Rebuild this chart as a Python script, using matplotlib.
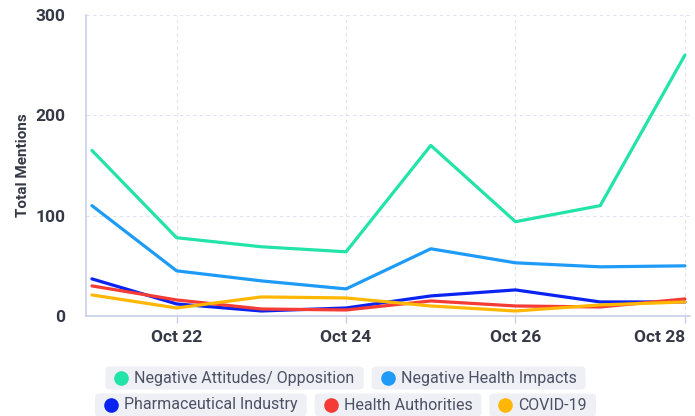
import matplotlib.pyplot as plt
from matplotlib.patches import FancyBboxPatch

plt.rcParams['font.family'] = ['Roboto', 'DejaVu Sans']

# data
days = [21, 22, 23, 24, 25, 26, 27, 28]
tick_days = [22, 24, 26, 28]
tick_labels = ['Oct 22', 'Oct 24', 'Oct 26', 'Oct 28']

neg_attitudes = [165, 78, 69, 64, 170, 94, 110, 260]
neg_health = [110, 45, 35, 27, 67, 53, 49, 50]
pharma = [37, 12, 5, 8, 20, 26, 14, 14]
health_auth = [30, 16, 7, 6, 15, 10, 9, 17]
covid = [21, 8, 19, 18, 10, 5, 11, 14]

names = ['Negative Attitudes/ Opposition', 'Negative Health Impacts',
         'Pharmaceutical Industry', 'Health Authorities', 'COVID-19']
series = [neg_attitudes, neg_health, pharma, health_auth, covid]
colors = ['#22e3a8', '#1e9bf7', '#0a23f0', '#f43b35', '#ffb703']

W, H = 695, 416
fig = plt.figure(figsize=(W / 100, H / 100), dpi=100)
ax = fig.add_axes([86 / W, 1 - 316 / H, (690 - 86) / W, (316 - 15) / H])

for vals, c in zip(series, colors):
    ax.plot(days, vals, color=c, lw=2.3, solid_capstyle='round', zorder=3)

ax.set_xlim(20.93, 28.06)
ax.set_ylim(0, 300)
ax.set_xticks(tick_days)
ax.set_xticklabels(tick_labels)
ax.set_yticks([0, 100, 200, 300])
ax.grid(True, color='#dfe3f0', ls=(0, (3, 3)), lw=0.8)
ax.set_axisbelow(True)
for s in ['top', 'right']:
    ax.spines[s].set_visible(False)
for s in ['left', 'bottom']:
    ax.spines[s].set_color('#c9d0e6')
    ax.spines[s].set_linewidth(1.2)
ax.tick_params(axis='x', length=5, color='#c9d0e6', width=1, labelsize=12.5,
               labelcolor='#353946', pad=5)
ax.tick_params(axis='y', length=0, labelsize=12.5, labelcolor='#353946', pad=15)
for lab in ax.get_xticklabels() + ax.get_yticklabels():
    lab.set_fontweight('semibold')
last = ax.get_xticklabels()[-1]
last.set_horizontalalignment('right')
last.set_x(28.06)
ax.set_ylabel('Total Mentions', fontsize=11, color='#353946', fontweight='semibold', labelpad=4)

# legend as rounded chips, two centred rows
rows = [[0, 1], [2, 3, 4]]
row_y = [378, 405]
gap = 8
fig.canvas.draw()
r = fig.canvas.get_renderer()
for row, yc in zip(rows, row_y):
    texts = []
    widths = []
    for i in row:
        t = fig.text(0, 1 - yc / H, names[i], fontsize=11.5, color='#4c5164',
                     va='center', ha='left')
        w = t.get_window_extent(r).width
        texts.append(t)
        widths.append(w + 38)
    total = sum(widths) + gap * (len(row) - 1)
    x0 = (W - total) / 2 - 2
    for t, w, i in zip(texts, widths, row):
        box = FancyBboxPatch((x0 / W, 1 - (yc + 11.5) / H), w / W, 23 / H,
                             boxstyle='round,pad=0,rounding_size=0.008',
                             transform=fig.transFigure, fc='#eef0f5', ec='none')
        fig.add_artist(box)
        fig.add_artist(plt.Line2D([(x0 + 16) / W], [1 - yc / H], marker='o', ms=9.5,
                                  color=colors[i], transform=fig.transFigure))
        t.set_x((x0 + 29) / W)
        t.set_zorder(5)
        x0 += w + gap

fig.savefig('out.png', dpi=100)
